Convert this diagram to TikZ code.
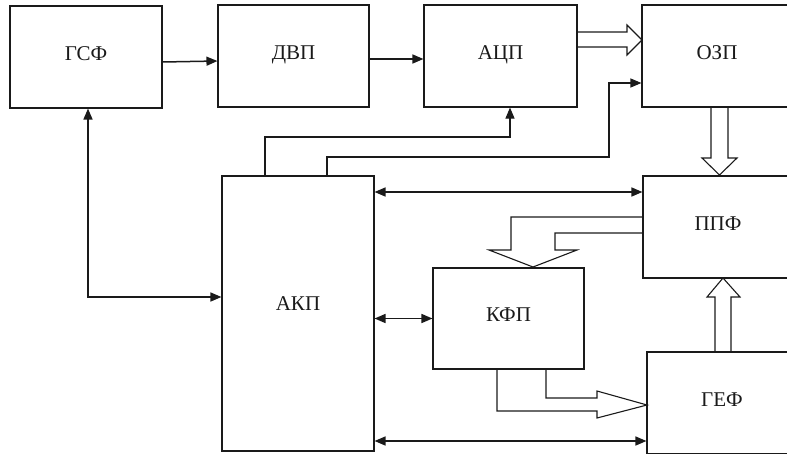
\documentclass[tikz,border=0pt]{standalone}
\usepackage{fontspec}
\setmainfont{Liberation Serif}
\usetikzlibrary{arrows.meta,calc}
\definecolor{ink}{HTML}{1a1a1a}
\tikzset{
  blk/.style={draw=ink, line width=1.1pt, rectangle, inner sep=0pt,
    font=\fontsize{21}{24}\selectfont, text=ink},
  conn/.style={draw=ink, line width=1.5pt},
  thinconn/.style={draw=ink, line width=1.1pt},
  tip/.style={-{Triangle[length=11pt,width=9pt]}},
  tips/.style={{Triangle[length=11pt,width=9pt]}-{Triangle[length=11pt,width=9pt]}},
  hollow/.style={draw=ink, line width=1.1pt, line join=miter},
}
\begin{document}
\begin{tikzpicture}[x=1pt,y=-1pt]
\useasboundingbox (0,0) rectangle (787,453);
% blocks
\node[blk, minimum width=152, minimum height=102] (gsf) at (86,57) {\raisebox{7pt}{ГСФ}};
\node[blk, minimum width=151, minimum height=102] (dvp) at (293.5,56) {\raisebox{6pt}{ДВП}};
\node[blk, minimum width=153, minimum height=102] (acp) at (500.5,56) {\raisebox{6pt}{АЦП}};
\node[blk, minimum width=150, minimum height=102] (ozp) at (717,56) {\raisebox{6pt}{ОЗП}};
\node[blk, minimum width=150, minimum height=102] (ppf) at (718,227) {\raisebox{7pt}{ППФ}};
\node[blk, minimum width=151, minimum height=101] (kfp) at (508.5,318.5) {\raisebox{7pt}{КФП}};
\node[blk, minimum width=150, minimum height=102] (gef) at (722,403) {\raisebox{7pt}{ГЕФ}};
\node[blk, minimum width=152, minimum height=275] (akp) at (298,313.5) {\raisebox{20pt}{АКП}};
% helper coordinates
\coordinate (c1) at (88,297);
\coordinate (k1) at (265,137);
\coordinate (k2) at (510,137);
\coordinate (k3) at (327,157);
\coordinate (k4) at (609,157);
\coordinate (k5) at (609,83);
\coordinate (r1) at (0,192);
\coordinate (r3) at (0,441);
% solid connectors
\draw[conn,tip] ([yshift=-5pt]gsf.east) -- ([yshift=-5pt]dvp.west);
\draw[conn,tip] ([yshift=-3pt]dvp.east) -- ([yshift=-3pt]acp.west);
\draw[conn,tips] (gsf.south -| c1) -- (c1) -- (c1 -| akp.west);
\draw[thinconn,tip] (k1 |- akp.north) -- (k1) -- (k2) -- (k2 |- acp.south);
\draw[thinconn,tip] (k3 |- akp.north) -- (k3) -- (k4) -- (k5) -- (k5 -| ozp.west);
\draw[conn,tips] (akp.east |- r1) -- (ppf.west |- r1);
\draw[conn,tips] (akp.east |- kfp.west) -- (kfp.west);
\draw[conn,tips] (akp.east |- r3) -- (gef.west |- r3);
% hollow arrows
\draw[hollow] (577,32) -- (627,32) -- (627,25) -- (642,40) -- (627,55) -- (627,47) -- (577,47);
\draw[hollow] (711,107) -- (711,158) -- (702,158) -- (719.5,175) -- (737,158) -- (728,158) -- (728,107);
\draw[hollow] (643,217) -- (511,217) -- (511,250) -- (489,250) -- (533,267) -- (577,250) -- (555,250) -- (555,233) -- (643,233);
\draw[hollow] (497,369) -- (497,411) -- (597,411) -- (597,418) -- (647,405) -- (597,391) -- (597,398) -- (546,398) -- (546,369);
\draw[hollow] (715,352) -- (715,297) -- (707,297) -- (723,278) -- (740,297) -- (731,297) -- (731,352);
\end{tikzpicture}
\end{document}
